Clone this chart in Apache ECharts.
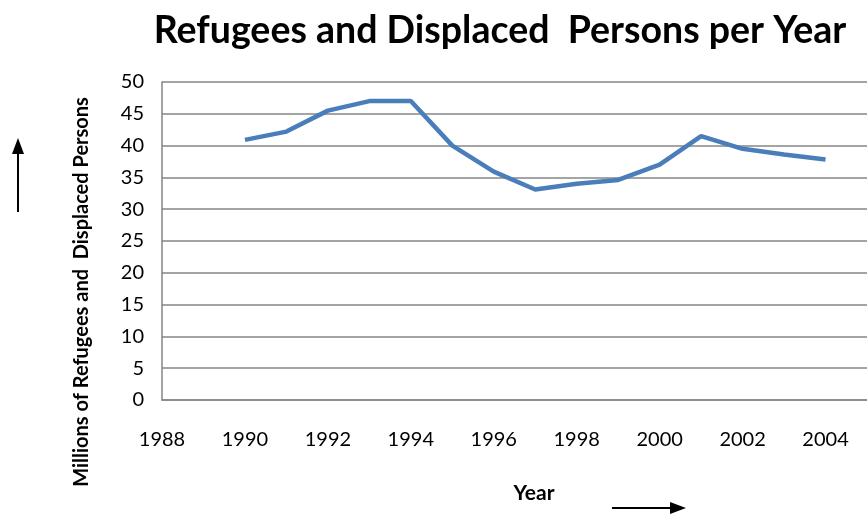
<!DOCTYPE html>
<html><head><meta charset="utf-8">
<script src="https://cdn.jsdelivr.net/npm/echarts@6/dist/echarts.min.js"></script>
<style>html,body{margin:0;padding:0;background:#fff}#c{width:867px;height:517px}</style>
</head><body><div id="c"></div>
<script>
const years = [1990,1991,1992,1993,1994,1995,1996,1997,1998,1999,2000,2001,2002,2003,2004];
const refugees = [40.9,42.2,45.5,47.0,47.0,40.0,35.9,33.1,34.0,34.6,37.0,41.5,39.5,38.6,37.8];
const titleText = 'Refugees and Displaced  Persons per Year';
const yName = 'Millions of Refugees and  Displaced Persons';
const xName = 'Year';
const FONT = 'Lato, "Open Sans", sans-serif';

const chart = echarts.init(document.getElementById('c'));
chart.setOption({
  animation:false,
  backgroundColor:'#fff',
  title:{text:titleText,left:495,top:7,textAlign:'center',
    textStyle:{fontFamily:FONT,fontWeight:'bold',fontSize:37.5,color:'#000'}},
  grid:{left:162,right:0,top:82,bottom:117},
  xAxis:{type:'value',min:1988,max:2005,interval:2,
    axisLine:{show:true,lineStyle:{color:'#868686',width:1.5}},
    axisTick:{show:false},splitLine:{show:false},
    axisLabel:{showMaxLabel:false,margin:30,fontFamily:FONT,fontSize:20,color:'#000',
      formatter:v=>String(v)}},
  yAxis:{type:'value',min:0,max:50,interval:5,
    axisLine:{show:true,lineStyle:{color:'#868686',width:1.5}},
    axisTick:{show:false},
    splitLine:{lineStyle:{color:'#868686',width:1.5}},
    axisLabel:{margin:18,fontFamily:FONT,fontSize:20,color:'#000'}},
  series:[{type:'line',data:years.map((y,i)=>[y,refugees[i]]),
    showSymbol:false,lineStyle:{color:'#4a7ebb',width:4.5},itemStyle:{color:'#4a7ebb'}}],
  graphic:[
    {type:'text',x:82,y:292,rotation:Math.PI/2,
      style:{text:yName,fontFamily:FONT,fontWeight:'bold',fontSize:20,fill:'#000',
        textAlign:'center',textVerticalAlign:'middle'}},
    {type:'text',x:534,y:493,
      style:{text:xName,fontFamily:FONT,fontWeight:'bold',fontSize:21,fill:'#000',
        textAlign:'center',textVerticalAlign:'middle'}},
    {type:'line',shape:{x1:18,y1:212,x2:18,y2:152},style:{stroke:'#000',lineWidth:2}},
    {type:'polygon',shape:{points:[[12,154],[24,154],[18,138]]},style:{fill:'#000'}},
    {type:'line',shape:{x1:612,y1:508,x2:672,y2:508},style:{stroke:'#000',lineWidth:2}},
    {type:'polygon',shape:{points:[[670,502],[670,514],[686,508]]},style:{fill:'#000'}}
  ]
});
</script></body></html>
